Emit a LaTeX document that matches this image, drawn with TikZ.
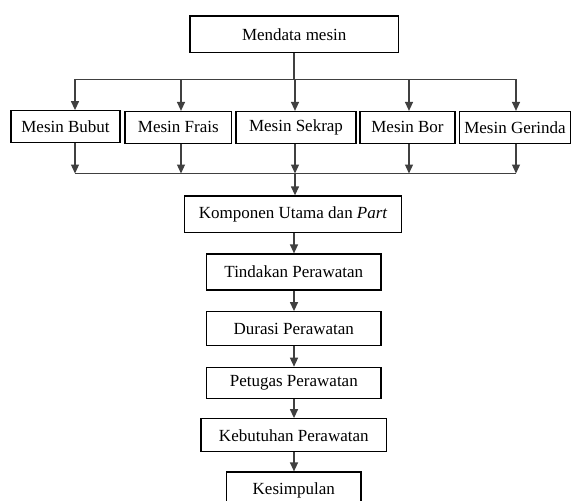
\documentclass[tikz,border=0pt]{standalone}
\usepackage{fontspec}
\setmainfont{Liberation Serif}
\usetikzlibrary{arrows.meta}
\begin{document}
\begin{tikzpicture}[x=1pt,y=-1pt,
  box/.style={draw=black,line width=1.2pt,fill=white,inner sep=0pt,anchor=center,
    font=\fontsize{17}{20}\selectfont},
  conn/.style={draw=black!75,line width=1.3pt},
  arr/.style={conn,-{Triangle[width=8pt,length=9pt]}}]
\useasboundingbox (0,0) rectangle (571,501);
\fill[white] (0,0) rectangle (571,501);
\clip (0,0) rectangle (571,501);
% boxes
\node[box,minimum width=208.5pt,minimum height=36.7pt] (mendata) at (294.2,34.3) {Mendata mesin};
\node[box,minimum width=109pt,minimum height=31.6pt] (bubut) at (65.5,126.5) {Mesin Bubut};
\node[box,minimum width=106.7pt,minimum height=31.6pt] (frais) at (178.3,127.3) {Mesin Frais};
\node[box,minimum width=120pt,minimum height=31.6pt] (sekrap) at (296,127.3) {Mesin Sekrap};
\node[box,minimum width=95pt,minimum height=31.6pt] (bor) at (407.5,127.3) {Mesin Bor};
\node[box,minimum width=111pt,minimum height=31.6pt] (gerinda) at (515,127.3) {Mesin Gerinda};
\node[box,minimum width=217pt,minimum height=36.7pt] (komponen) at (293.2,214.3) {Komponen Utama dan \textit{Part}};
\node[box,minimum width=174.3pt,minimum height=36pt] (tindakan) at (293.8,272) {Tindakan Perawatan};
\node[box,minimum width=174.3pt,minimum height=34pt] (durasi) at (293.8,328.7) {Durasi Perawatan};
\node[box,minimum width=174.3pt,minimum height=31.4pt] (petugas) at (293.8,383) {Petugas Perawatan};
\node[box,minimum width=185.7pt,minimum height=33pt] (kebutuhan) at (293.8,435.2) {Kebutuhan Perawatan};
\node[box,minimum width=134.3pt,minimum height=36pt] (kesimpulan) at (293.8,490) {Kesimpulan};
% top bus
\coordinate (t1) at (75,79.3);
\coordinate (t2) at (181,79.3);
\coordinate (t3) at (295,79.3);
\coordinate (t4) at (409,79.3);
\coordinate (t5) at (516,79.3);
\draw[conn] (mendata.south -| 294,0) -- (294,79.3);
\draw[conn] (t1) -- (t5);
\draw[arr] (t1) -- (t1 |- bubut.north);
\draw[arr] (t2) -- (t2 |- frais.north);
\draw[arr] (t3) -- (t3 |- sekrap.north);
\draw[arr] (t4) -- (t4 |- bor.north);
\draw[arr] (t5) -- (t5 |- gerinda.north);
% bottom bus
\coordinate (b1) at (75,173.5);
\coordinate (b2) at (181,173.5);
\coordinate (b3) at (295,173.5);
\coordinate (b4) at (409,173.5);
\coordinate (b5) at (516,173.5);
\draw[conn] (b1) -- (b5);
\draw[arr] (b1 |- bubut.south) -- (b1);
\draw[arr] (b2 |- frais.south) -- (b2);
\draw[arr] (b3 |- sekrap.south) -- (b3);
\draw[arr] (b4 |- bor.south) -- (b4);
\draw[arr] (b5 |- gerinda.south) -- (b5);
\draw[arr] (b3) -- (b3 |- komponen.north);
% chain
\draw[arr] (komponen.south -| 294,0) -- (294,0 |- tindakan.north);
\draw[arr] (tindakan.south -| 294,0) -- (294,0 |- durasi.north);
\draw[arr] (durasi.south -| 294,0) -- (294,0 |- petugas.north);
\draw[arr] (petugas.south -| 294,0) -- (294,0 |- kebutuhan.north);
\draw[arr] (kebutuhan.south -| 294,0) -- (294,0 |- kesimpulan.north);
\end{tikzpicture}
\end{document}
